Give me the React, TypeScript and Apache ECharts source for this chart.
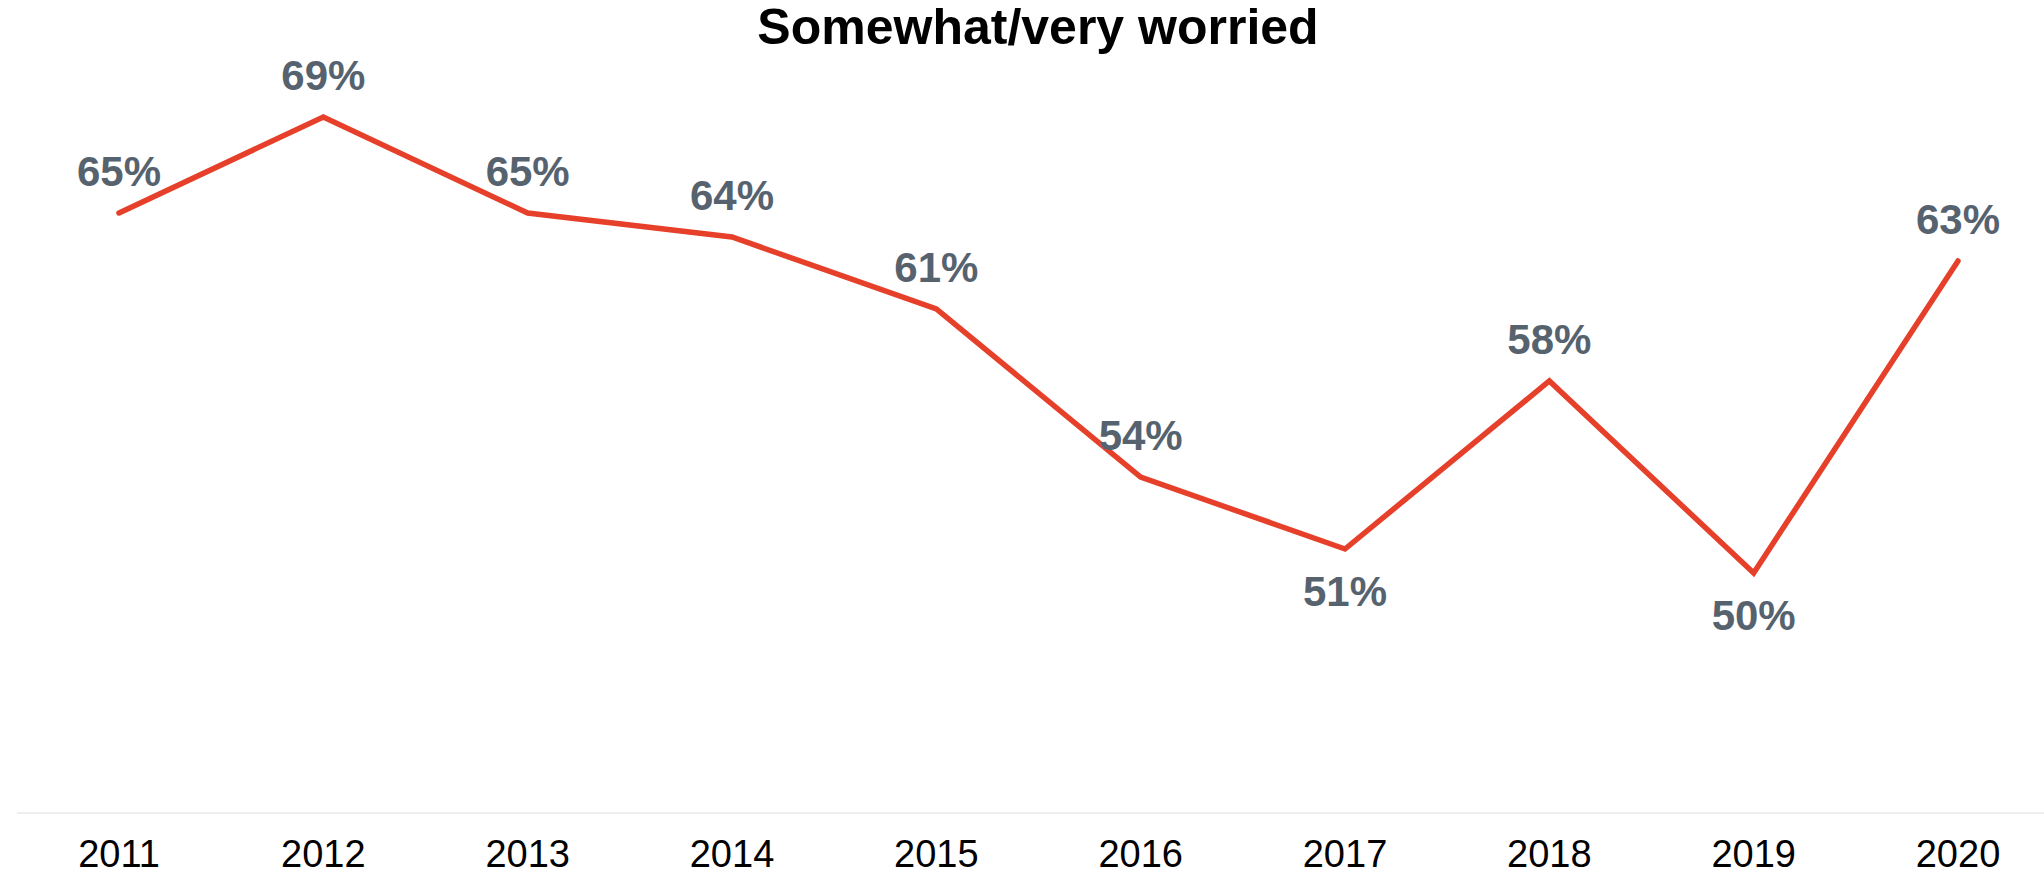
import React, { useEffect, useRef } from "react";
import * as echarts from "echarts";

const title = "Somewhat/very worried";
const years = ["2011", "2012", "2013", "2014", "2015", "2016", "2017", "2018", "2019", "2020"];
const values = [65, 69, 65, 64, 61, 54, 51, 58, 50, 63];
const labelBelow = [false, false, false, false, false, false, true, false, true, false];

export default function App() {
  const ref = useRef<HTMLDivElement>(null);
  useEffect(() => {
    if (!ref.current) return;
    const chart = echarts.init(ref.current, null, { renderer: "svg" });
    const font = "'Liberation Sans', Arial, sans-serif";
    chart.setOption({
      animation: false,
      backgroundColor: "#ffffff",
      graphic: [
        {
          type: "text",
          x: 1038,
          y: 2,
          style: {
            text: title,
            fontFamily: font,
            fontWeight: "bold",
            fontSize: 50,
            fill: "#000000",
            textAlign: "center",
            textVerticalAlign: "top",
          },
        },
        {
          type: "line",
          shape: { x1: 17, y1: 813, x2: 2044, y2: 813 },
          style: { stroke: "#eeeeee", lineWidth: 2 },
          z: 0,
        },
      ],
      grid: { left: 119, right: 86, top: 93, bottom: 62, containLabel: false },
      xAxis: {
        type: "category",
        data: years,
        boundaryGap: false,
        axisLine: { show: false },
        axisTick: { show: false },
        axisLabel: { color: "#000000", fontFamily: font, fontSize: 38, lineHeight: 34, margin: 24 },
        splitLine: { show: false },
      },
      yAxis: {
        type: "value",
        min: 40,
        max: 70,
        show: false,
        splitLine: { show: false },
      },
      series: [
        {
          type: "line",
          data: values.map((v, i) => ({
            value: v,
            label: { show: true, position: labelBelow[i] ? "bottom" : "top" },
          })),
          showSymbol: true,
          symbol: "circle",
          symbolSize: 2,
          lineStyle: { color: "#e6402a", width: 5.5, cap: "round", join: "miter" },
          itemStyle: { color: "#e6402a" },
          label: {
            show: true,
            distance: 20,
            formatter: "{c}%",
            color: "#56636f",
            fontFamily: font,
            fontWeight: "bold",
            fontSize: 42,
          },
        },
      ],
    });
    return () => chart.dispose();
  }, []);
  return (
    <div
      ref={ref}
      style={{ position: "fixed", left: 0, top: 0, width: 2044, height: 875 }}
    />
  );
}
